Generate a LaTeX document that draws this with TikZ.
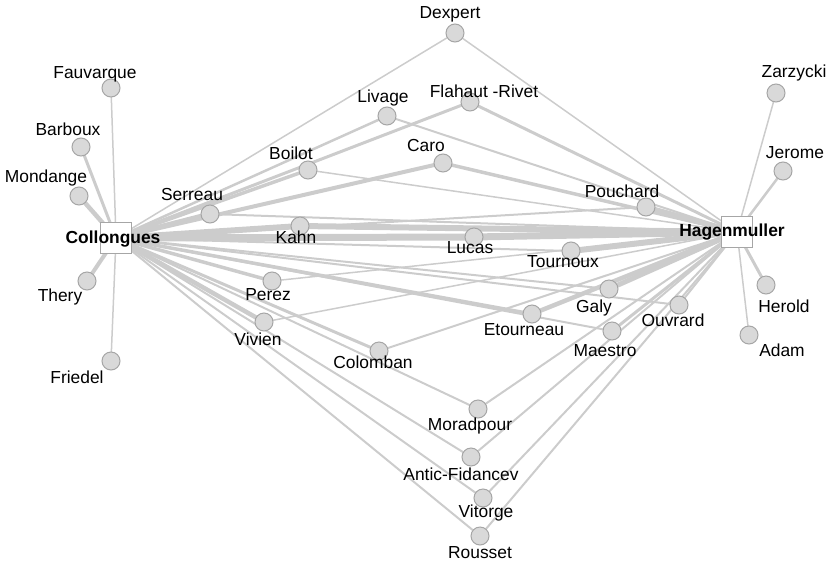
\documentclass[tikz,border=0pt]{standalone}
\usepackage{fontspec}
\setmainfont{Liberation Sans}
\usetikzlibrary{backgrounds}
\definecolor{linkgray}{HTML}{CCCCCC}
\definecolor{dotfill}{HTML}{D9D9D9}
\definecolor{dotdraw}{HTML}{A6A6A6}
\tikzset{
    person/.style = {circle, draw = dotdraw, fill = dotfill, line width = 1pt,
                     minimum size = 18pt, inner sep = 0pt},
    hub/.style = {rectangle, draw = dotdraw, fill = white, line width = 1pt,
                  minimum size = 31pt, inner sep = 0pt},
    every label/.style = {inner sep = 0pt, font = \fontsize{17.4}{20}\selectfont},
    link/.style = {draw = linkgray, line cap = round}
}

\begin{document}
\begin{tikzpicture}[x = 1pt, y = -1pt]
    \useasboundingbox (0, 0) rectangle (830, 563);

    % the two hubs
    \node[hub, label = {[font = \fontsize{17.4}{20}\selectfont\bfseries, shift = {(-3, 1)}]center:Collongues}] (coll) at (116, 238) {};
    \node[hub, label = {[font = \fontsize{17.4}{20}\selectfont\bfseries, shift = {(-5, 0)}]center:Hagenmuller}] (hagen) at (737, 232) {};

    % people around them
    \node[person, label = {[shift = {(-5, -19)}]center:Dexpert}] (dexpert) at (455, 33) {};
    \node[person, label = {[shift = {(-16, -14)}]center:Fauvarque}] (fauvarque) at (111, 88) {};
    \node[person, label = {[shift = {(18, -20)}]center:Zarzycki}] (zarzycki) at (776, 93) {};
    \node[person, label = {[shift = {(-4, -18)}]center:Livage}] (livage) at (387, 116) {};
    \node[person, label = {[shift = {(14, -11)}]center:Flahaut -Rivet}] (flahaut) at (470, 102) {};
    \node[person, label = {[shift = {(-13, -18)}]center:Barboux}] (barboux) at (81, 147) {};
    \node[person, label = {[shift = {(12, -18)}]center:Jerome}] (jerome) at (783, 171) {};
    \node[person, label = {[shift = {(-17, -17)}]center:Boilot}] (boilot) at (308, 170) {};
    \node[person, label = {[shift = {(-17, -17)}]center:Caro}] (caro) at (443, 163) {};
    \node[person, label = {[shift = {(-33, -18)}]center:Mondange}] (mondange) at (79, 196) {};
    \node[person, label = {[shift = {(-18, -19)}]center:Serreau}] (serreau) at (210, 214) {};
    \node[person, label = {[shift = {(-24, -16)}]center:Pouchard}] (pouchard) at (646, 207) {};
    \node[person, label = {[shift = {(-4, 11)}]center:Kahn}] (kahn) at (300, 226) {};
    \node[person, label = {[shift = {(-4, 11)}]center:Lucas}] (lucas) at (474, 237) {};
    \node[person, label = {[shift = {(-8, 11)}]center:Tournoux}] (tournoux) at (571, 251) {};
    \node[person, label = {[shift = {(-4, 14)}]center:Perez}] (perez) at (272, 281) {};
    \node[person, label = {[shift = {(-27, 16)}]center:Thery}] (thery) at (87, 281) {};
    \node[person, label = {[shift = {(18, 21)}]center:Herold}] (herold) at (766, 285) {};
    \node[person, label = {[shift = {(-15, 19)}]center:Galy}] (galy) at (609, 289) {};
    \node[person, label = {[shift = {(-6, 15)}]center:Ouvrard}] (ouvrard) at (679, 305) {};
    \node[person, label = {[shift = {(-8, 16)}]center:Etourneau}] (etourneau) at (532, 314) {};
    \node[person, label = {[shift = {(-6, 17)}]center:Vivien}] (vivien) at (264, 322) {};
    \node[person, label = {[shift = {(-7, 20)}]center:Maestro}] (maestro) at (612, 331) {};
    \node[person, label = {[shift = {(33, 15)}]center:Adam}] (adam) at (749, 335) {};
    \node[person, label = {[shift = {(-6, 11)}]center:Colomban}] (colomban) at (379, 351) {};
    \node[person, label = {[shift = {(-34, 16)}]center:Friedel}] (friedel) at (111, 361) {};
    \node[person, label = {[shift = {(-8, 17)}]center:Moradpour}] (moradpour) at (478, 409) {};
    \node[person, label = {[shift = {(-10, 17)}]center:Antic-Fidancev}] (antic) at (471, 457) {};
    \node[person, label = {[shift = {(3, 15)}]center:Vitorge}] (vitorge) at (483, 498) {};
    \node[person, label = {[shift = {(0, 17)}]center:Rousset}] (rousset) at (480, 536) {};

    \begin{pgfonlayer}{background}
        % only one side
        \draw[link, line width = 1.5] (coll.center) -- (fauvarque);
        \draw[link, line width = 3] (coll.center) -- (barboux);
        \draw[link, line width = 4.5] (coll.center) -- (mondange);
        \draw[link, line width = 4] (coll.center) -- (thery);
        \draw[link, line width = 1.5] (coll.center) -- (friedel);
        \draw[link, line width = 1.5] (hagen.center) -- (zarzycki);
        \draw[link, line width = 2.5] (hagen.center) -- (jerome);
        \draw[link, line width = 3] (hagen.center) -- (herold);
        \draw[link, line width = 1.5] (hagen.center) -- (adam);

        % both sides
        \draw[link, line width = 1.5] (coll.center) -- (dexpert);
        \draw[link, line width = 1.5] (dexpert) -- (hagen.center);
        \draw[link, line width = 2.5] (coll.center) -- (livage);
        \draw[link, line width = 2] (livage) -- (hagen.center);
        \draw[link, line width = 3] (coll.center) -- (flahaut);
        \draw[link, line width = 3] (flahaut) -- (hagen.center);
        \draw[link, line width = 3.5] (coll.center) -- (boilot);
        \draw[link, line width = 1.5] (boilot) -- (hagen.center);
        \draw[link, line width = 4] (coll.center) -- (caro);
        \draw[link, line width = 3.5] (caro) -- (hagen.center);
        \draw[link, line width = 5] (coll.center) -- (serreau);
        \draw[link, line width = 2] (serreau) -- (hagen.center);
        \draw[link, line width = 2] (coll.center) -- (pouchard);
        \draw[link, line width = 5] (pouchard) -- (hagen.center);
        \draw[link, line width = 6] (coll.center) -- (kahn);
        \draw[link, line width = 6] (kahn) -- (hagen.center);
        \draw[link, line width = 7] (coll.center) -- (lucas);
        \draw[link, line width = 7] (lucas) -- (hagen.center);
        \draw[link, line width = 2] (coll.center) -- (tournoux);
        \draw[link, line width = 6] (tournoux) -- (hagen.center);
        \draw[link, line width = 3.5] (coll.center) -- (perez);
        \draw[link, line width = 1.5] (perez) -- (hagen.center);
        \draw[link, line width = 2] (coll.center) -- (galy);
        \draw[link, line width = 5] (galy) -- (hagen.center);
        \draw[link, line width = 2] (coll.center) -- (ouvrard);
        \draw[link, line width = 2] (ouvrard) -- (hagen.center);
        \draw[link, line width = 3.5] (coll.center) -- (etourneau);
        \draw[link, line width = 4.5] (etourneau) -- (hagen.center);
        \draw[link, line width = 4.5] (coll.center) -- (vivien);
        \draw[link, line width = 1.5] (vivien) -- (hagen.center);
        \draw[link, line width = 2] (coll.center) -- (maestro);
        \draw[link, line width = 3] (maestro) -- (hagen.center);
        \draw[link, line width = 3] (coll.center) -- (colomban);
        \draw[link, line width = 2] (colomban) -- (hagen.center);
        \draw[link, line width = 2] (coll.center) -- (moradpour);
        \draw[link, line width = 2] (moradpour) -- (hagen.center);
        \draw[link, line width = 2] (coll.center) -- (antic);
        \draw[link, line width = 2] (antic) -- (hagen.center);
        \draw[link, line width = 2] (coll.center) -- (vitorge);
        \draw[link, line width = 2] (vitorge) -- (hagen.center);
        \draw[link, line width = 2] (coll.center) -- (rousset);
        \draw[link, line width = 2] (rousset) -- (hagen.center);
    \end{pgfonlayer}
\end{tikzpicture}
\end{document}
